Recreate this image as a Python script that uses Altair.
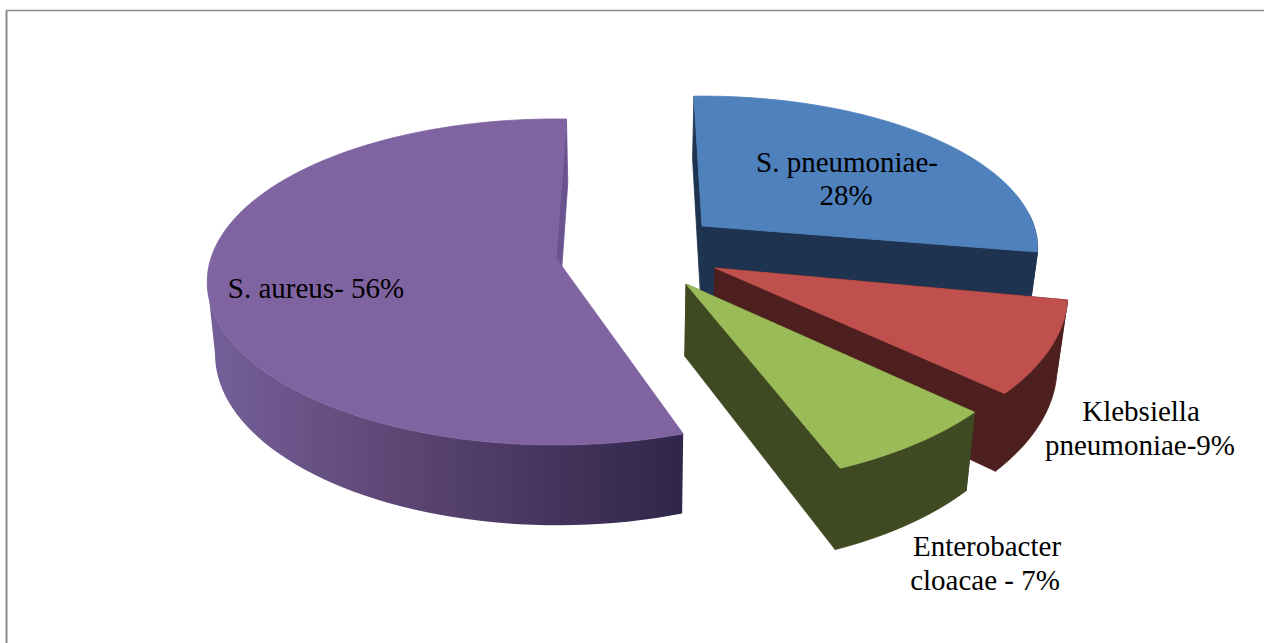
import math
import altair as alt
import pandas as pd

# Organisms and their share of isolates, in drawing order round the pie
organisms = ["S. pneumoniae", "Klebsiella pneumoniae", "Enterobacter cloacae", "S. aureus"]
shares = [28, 9, 7, 56]

# Label lines
label_lines = ["S. pneumoniae-", "28%", "S. aureus- 56%", "Klebsiella", "pneumoniae-9%", "Enterobacter", "cloacae - 7%"]
label_x = [847, 846, 316, 1141, 1140, 987, 985]
label_y = [172, 205, 298, 421, 455, 556, 590]

W, H = 1264, 643
TOP = ["#4f81bd", "#c0504d", "#9bbb59", "#8064a2"]
WALL = ["#1e334f", "#4d1f1e", "#3f4a22", "#5a4470"]

# Projection of each exploded wedge: apex position, radii, start angle, sweep stretch
wedge_view = [
    dict(cx=702, cy=226, rx=332, ry=149, start=-1.6, stretch=1.006),
    dict(cx=715, cy=268, rx=349, ry=171, start=100.5, stretch=0.957),
    dict(cx=686, cy=284, rx=351, ry=172, start=132.2, stretch=1.012),
    dict(cx=556, cy=258, rx=345, ry=159.5, start=161.5, stretch=0.9945),
]
PERSPECTIVE = 0.147
RIM_FROM, RIM_TO = 84, 262  # the part of the rim that faces the viewer


def top_point(view, deg):
    t = math.radians(deg)
    u, v = math.sin(t), math.cos(t)
    d = 1 + PERSPECTIVE * v
    return view["cx"] + view["rx"] * u / d, view["cy"] - view["ry"] * v / d


def drop(p):
    # Matching point on the underside of the disc, which is slightly narrower
    pull = 0.975 if p[0] > 640 else 0.982
    return 640 + (p[0] - 640) * pull, 58 + 1.05 * p[1]


def face(points, fill, stroke=None):
    closed = points + points[:1]
    df = pd.DataFrame({"x": [p[0] for p in closed], "y": [p[1] for p in closed], "i": range(len(closed))})
    return (
        alt.Chart(df)
        .mark_line(fill=fill, stroke=stroke or fill, strokeWidth=0.8, interpolate="linear")
        .encode(
            x=alt.X("x:Q", scale=alt.Scale(domain=[0, W], nice=False), axis=None),
            y=alt.Y("y:Q", scale=alt.Scale(domain=[H, 0], nice=False), axis=None),
            order="i:Q",
        )
    )


layers = []
for share, view, top, wall in zip(shares, wedge_view, TOP, WALL):
    a0 = view["start"]
    a1 = a0 + share * 3.6 * view["stretch"]
    steps = max(12, int((a1 - a0) / 2))
    angles = [a0 + (a1 - a0) * k / steps for k in range(steps + 1)]
    arc = [top_point(view, a) for a in angles]
    apex = (view["cx"], view["cy"])

    start_face = [arc[0], apex, drop(apex), drop(arc[0])]
    end_face = [arc[-1], apex, drop(apex), drop(arc[-1])]

    front = [p for p, a in zip(arc, angles) if RIM_FROM <= a <= RIM_TO]
    outer = front + [drop(p) for p in reversed(front)]

    if share == 56:
        # The big wedge's rim darkens towards the cut edge
        gradient = alt.Gradient(
            gradient="linear", x1=1, x2=0, y1=0, y2=0,
            stops=[
                alt.GradientStop(color="#30264a", offset=0),
                alt.GradientStop(color="#5d4674", offset=0.6),
                alt.GradientStop(color="#75609a", offset=1),
            ],
        )
        layers.append(face(end_face, "#6b5390"))
        layers.append(face(outer, gradient, stroke="transparent"))
    else:
        layers.append(face(start_face, wall))
        layers.append(face(end_face, wall))
        layers.append(face(outer, wall))
    layers.append(face(arc + [apex], top))

frame_left = alt.Chart(pd.DataFrame({"x": [6.5], "y": [10.5], "y2": [H]})).mark_rule(color="#8a8a8a", strokeWidth=2).encode(
    x=alt.X("x:Q", scale=alt.Scale(domain=[0, W], nice=False), axis=None),
    y=alt.Y("y:Q", scale=alt.Scale(domain=[H, 0], nice=False), axis=None),
    y2="y2:Q",
)
frame_top = alt.Chart(pd.DataFrame({"x": [6.0], "x2": [W], "y": [10.5]})).mark_rule(color="#8a8a8a", strokeWidth=1.5).encode(
    x=alt.X("x:Q", scale=alt.Scale(domain=[0, W], nice=False), axis=None),
    x2="x2:Q",
    y=alt.Y("y:Q", scale=alt.Scale(domain=[H, 0], nice=False), axis=None),
)

labels = (
    alt.Chart(pd.DataFrame({"t": label_lines, "x": label_x, "y": label_y}))
    .mark_text(font="Liberation Serif", fontSize=29, color="#000000", align="center", baseline="alphabetic")
    .encode(
        x=alt.X("x:Q", scale=alt.Scale(domain=[0, W], nice=False), axis=None),
        y=alt.Y("y:Q", scale=alt.Scale(domain=[H, 0], nice=False), axis=None),
        text="t:N",
    )
)

chart = (
    alt.layer(frame_left, frame_top, *layers, labels)
    .properties(width=W, height=H, padding=0, autosize=alt.AutoSizeParams(type="none"), background="#ffffff")
    .configure_view(stroke=None)
)
chart.save("out.html", embed_options={"renderer": "svg", "actions": False})
